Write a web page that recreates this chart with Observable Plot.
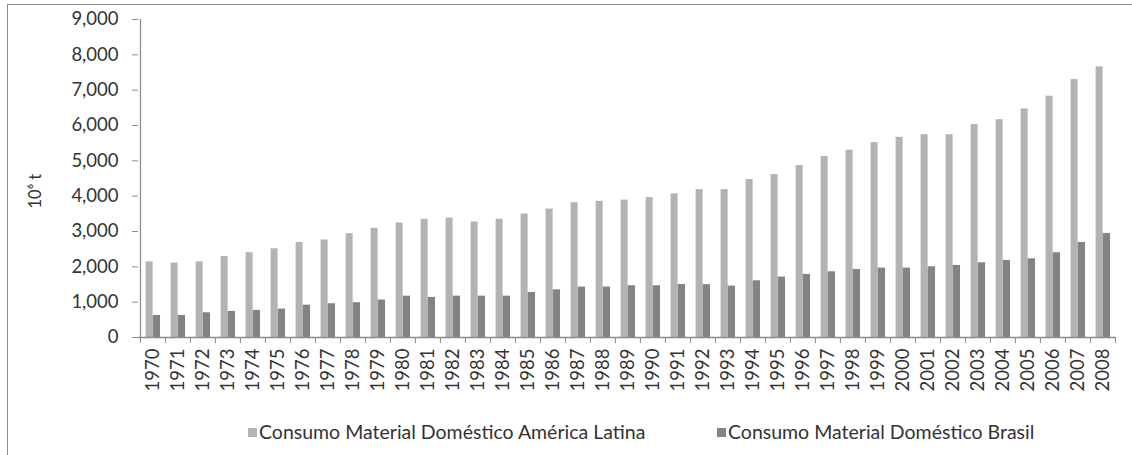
<!DOCTYPE html>
<html>
<head>
<meta charset="utf-8">
<script src="https://cdn.jsdelivr.net/npm/d3@7"></script>
<script src="https://cdn.jsdelivr.net/npm/@observablehq/plot@0.6"></script>
<style>
  html, body { margin: 0; padding: 0; background: #fff; }
  #wrap { position: relative; width: 1132px; height: 455px; overflow: hidden; font-family: Lato, "Open Sans", sans-serif; background: #fff; }
  #frame { position: absolute; left: 7px; top: 4px; width: 1130px; height: 460px; border-left: 1.5px solid #8c8c8c; border-top: 1.5px solid #8c8c8c; box-sizing: border-box; z-index: 2; pointer-events: none; }
  #chart { position: absolute; left: 0; top: 0; z-index: 1; }
  .legend { position: absolute; top: 421px; height: 22px; line-height: 22px; display: flex; align-items: center; font-size: 19.5px; color: #333; white-space: nowrap; z-index: 3; }
  .sw { width: 9px; height: 9px; margin-right: 2px; flex: none; }
</style>
</head>
<body>
<div id="wrap">
  <div id="chart"></div>
  <div id="frame"></div>
  <div class="legend" style="left:248px"><span class="sw" style="background:#b3b3b3"></span>Consumo Material Doméstico América Latina</div>
  <div class="legend" style="left:717px"><span class="sw" style="background:#838383"></span>Consumo Material Doméstico Brasil</div>
</div>
<script>
const years = ["1970","1971","1972","1973","1974","1975","1976","1977","1978","1979",
  "1980","1981","1982","1983","1984","1985","1986","1987","1988","1989",
  "1990","1991","1992","1993","1994","1995","1996","1997","1998","1999",
  "2000","2001","2002","2003","2004","2005","2006","2007","2008"];
const latamValues = [2140,2105,2140,2290,2400,2510,2690,2760,2940,3090,
  3240,3345,3380,3270,3345,3495,3635,3815,3855,3890,
  3960,4065,4185,4185,4470,4610,4865,5120,5300,5515,
  5665,5740,5740,6025,6165,6470,6830,7300,7660];
const brasilValues = [625,625,700,738,768,805,915,955,985,1060,
  1170,1135,1170,1170,1170,1275,1350,1428,1428,1465,
  1465,1500,1495,1455,1605,1710,1785,1860,1926,1964,
  1964,2002,2040,2115,2182,2228,2400,2690,2945];
const yTicks = [0,1000,2000,3000,4000,5000,6000,7000,8000,9000];
const seriesNames = ["Consumo Material Doméstico América Latina", "Consumo Material Doméstico Brasil"];
const yLabel = "10⁶ t";

const latam = years.map((y, i) => ({year: y, value: latamValues[i], series: seriesNames[0]}));
const brasil = years.map((y, i) => ({year: y, value: brasilValues[i], series: seriesNames[1]}));

const W = 1132, H = 400, mL = 138, mR = 16, mT = 19, mB = 63;
const step = (W - mL - mR) / years.length;
const axisColor = "#8c8c8c";
const textColor = "#333";

const chart = Plot.plot({
  width: W, height: H,
  marginLeft: mL, marginRight: mR, marginTop: mT, marginBottom: mB,
  style: {fontFamily: "Lato, 'Open Sans', sans-serif", background: "transparent"},
  x: {type: "band", domain: years, padding: 0},
  y: {domain: [0, 9000]},
  marks: [
    Plot.barY(latam, {x: "year", y: "value", fill: "#b3b3b3", insetLeft: 5.6, insetRight: step - 12.7}),
    Plot.barY(brasil, {x: "year", y: "value", fill: "#838383", insetLeft: 12.7, insetRight: step - 20.1}),
    Plot.ruleY([0], {stroke: axisColor, strokeWidth: 1.3}),
    Plot.ruleX([years[0]], {x: d => d, dx: -step / 2, y1: 0, y2: 9000, stroke: axisColor, strokeWidth: 1.3}),
    Plot.axisY({ticks: yTicks, tickSize: 6, tickPadding: 14, tickFormat: d3.format(","), stroke: axisColor, fill: textColor, fontSize: 18.5, label: null}),
    Plot.axisX({tickSize: 0, tickPadding: 11, tickRotate: -90, fill: textColor, fontSize: 18.5, label: null}),
    Plot.axisX(years, {tickSize: 6, tickFormat: () => "", dx: -step / 2, stroke: axisColor, label: null}),
    Plot.axisX([years[years.length - 1]], {tickSize: 6, tickFormat: () => "", dx: step / 2, stroke: axisColor, label: null}),
    Plot.text([yLabel], {text: d => d, frameAnchor: "left", rotate: -90, dx: -103, dy: 30, fontSize: 16.5, fill: textColor})
  ]
});
document.getElementById("chart").appendChild(chart);
</script>
</body>
</html>
